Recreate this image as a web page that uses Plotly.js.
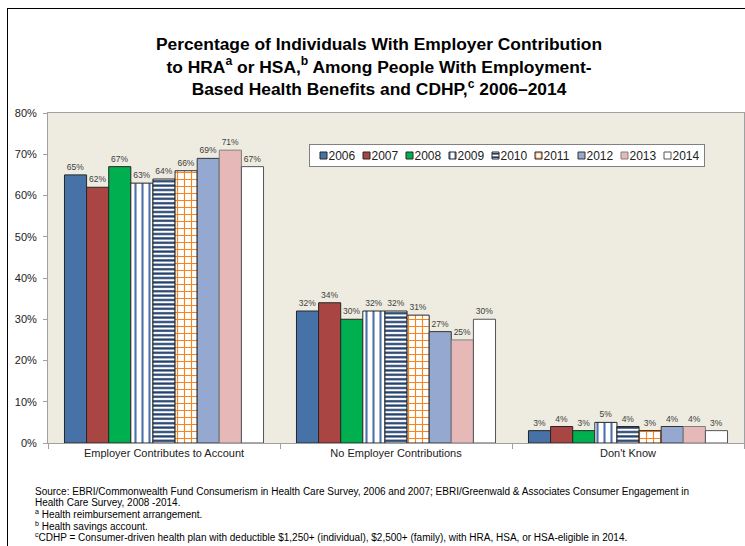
<!DOCTYPE html>
<html><head><meta charset="utf-8">
<script src="https://cdn.plot.ly/plotly-3.0.1.min.js"></script>
<style>
html,body{margin:0;padding:0;background:#fff;}
#wrap{position:relative;width:745px;height:546px;overflow:hidden;}
#chart{width:745px;height:546px;}
#frame{position:absolute;left:7px;top:8px;width:738px;height:538px;border-left:1.5px solid #000;border-top:1px solid #000;pointer-events:none;box-sizing:border-box;}
</style></head><body>
<div id="wrap"><div id="chart"></div><div id="frame"></div></div>
<script>
// ---- data ----
const categories = ["Employer Contributes to Account", "No Employer Contributions", "Don't Know"];
const years = ["2006", "2007", "2008", "2009", "2010", "2011", "2012", "2013", "2014"];
const v2006 = [65, 32, 3];
const v2007 = [62, 34, 4];
const v2008 = [67, 30, 3];
const v2009 = [63, 32, 5];
const v2010 = [64, 32, 4];
const v2011 = [66, 31, 3];
const v2012 = [69, 27, 4];
const v2013 = [71, 25, 4];
const v2014 = [67, 30, 3];
const yTickVals = [0, 10, 20, 30, 40, 50, 60, 70, 80];
const yTickText = ["0%", "10%", "20%", "30%", "40%", "50%", "60%", "70%", "80%"];
const seriesValues = [v2006, v2007, v2008, v2009, v2010, v2011, v2012, v2013, v2014];

// ---- styles ----
const FONT = "Liberation Sans, Arial, Helvetica, sans-serif";
const seriesStyles = [
  {color: "#4672A8", line: "#262626"},
  {color: "#A94643", line: "#262626"},
  {color: "#00B050", line: "#262626"},
  {color: "#FFFFFF", line: "#262626", pattern: {shape: "|", fgcolor: "#4A72A8", bgcolor: "#FFFFFF", size: 7, solidity: 0.3, fillmode: "replace"}},
  {color: "#FFFFFF", line: "#262626", pattern: {shape: "-", fgcolor: "#1F3D6B", bgcolor: "#FFFFFF", size: 4.4, solidity: 0.5, fillmode: "replace"}},
  {color: "#FFFFFF", line: "#262626", pattern: {shape: "+", fgcolor: "#F7841F", bgcolor: "#FFFFFF", size: 7, solidity: 0.3, fillmode: "replace"}},
  {color: "#95A8D0", line: "#333333"},
  {color: "#E6B8B7", line: "#7F7F7F"},
  {color: "#FFFFFF", line: "#555555"}
];

const traces = years.map((yr, i) => {
  const st = seriesStyles[i];
  const marker = {color: st.color, line: {color: st.line, width: 1}};
  if (st.pattern) marker.pattern = st.pattern;
  return {
    type: "bar",
    name: yr,
    x: categories,
    y: seriesValues[i],
    marker: marker,
    text: seriesValues[i].map(v => v + "%"),
    textposition: "outside",
    textfont: {family: FONT, size: 8.5, color: "#404040"},
    constraintext: "none",
    cliponaxis: false,
    hoverinfo: "x+y+name"
  };
});

const L = 48, R = 744, T = 113, B = 443;
const pw = R - L, ph = B - T;
const px2x = p => (p - L) / pw;
const px2y = p => (B - p) / ph;

const footnotes = [
  {y: 491, text: "Source: EBRI/Commonwealth Fund Consumerism in Health Care Survey, 2006 and 2007; EBRI/Greenwald & Associates Consumer Engagement in"},
  {y: 502.5, text: "Health Care Survey, 2008 -2014."},
  {y: 514, text: "<sup>a</sup> Health reimbursement arrangement."},
  {y: 525.5, text: "<sup>b</sup> Health savings account."},
  {y: 537, text: "<sup>c</sup>CDHP = Consumer-driven health plan with deductible $1,250+ (individual), $2,500+ (family), with HRA, HSA, or HSA-eligible in 2014."}
];

const layout = {
  width: 745, height: 546,
  margin: {l: L, r: 745 - R, t: T, b: 546 - B, pad: 0},
  paper_bgcolor: "#FFFFFF",
  plot_bgcolor: "#EEECE1",
  font: {family: FONT, color: "#222222", size: 11},
  title: {
    text: "Percentage of Individuals With Employer Contribution<br>to HRA<sup>a</sup> or HSA,<sup>b</sup> Among People With Employment-<br>Based Health Benefits and CDHP,<sup>c</sup> 2006–2014",
    font: {family: FONT, size: 17.4, weight: "bold", color: "#000000"},
    x: 379 / 745, xref: "container", xanchor: "center",
    y: 1 - 50 / 546, yref: "container", yanchor: "top"
  },
  barmode: "group",
  bargap: 0.142,
  bargroupgap: 0,
  showlegend: true,
  legend: {
    orientation: "h",
    x: px2x(309), y: px2y(144), xanchor: "left", yanchor: "top",
    bgcolor: "#FFFFFF", bordercolor: "#808080", borderwidth: 1,
    font: {family: FONT, size: 12, color: "#222222"},
    traceorder: "normal", itemclick: false, itemdoubleclick: false
  },
  xaxis: {
    type: "category",
    showline: true, linecolor: "#A0A0A0", linewidth: 1, mirror: true,
    ticks: "outside", tickson: "boundaries", ticklen: 5, tickcolor: "#A0A0A0",
    showgrid: false, zeroline: false,
    tickfont: {family: FONT, size: 11, color: "#222222"},
    fixedrange: true
  },
  yaxis: {
    range: [0, 80],
    tickvals: yTickVals, ticktext: yTickText,
    showline: true, linecolor: "#A0A0A0", linewidth: 1, mirror: true,
    ticks: "outside", ticklen: 4, tickcolor: "#A0A0A0",
    showgrid: false, zeroline: false,
    tickfont: {family: FONT, size: 11, color: "#222222"},
    ticklabelstandoff: 4,
    fixedrange: true
  },
  annotations: footnotes.map(f => ({
    xref: "paper", yref: "paper",
    x: px2x(33), y: px2y(f.y),
    xanchor: "left", yanchor: "middle",
    text: f.text, showarrow: false, align: "left",
    font: {family: FONT, size: 10, color: "#000000"}
  }))
};

const gd = document.getElementById("chart");
Plotly.newPlot(gd, traces, layout, {displayModeBar: false, staticPlot: true}).then(() => {
  // compact legend entries to mimic the reference layout
  const leg = gd.querySelector(".legend");
  if (!leg) return;
  leg.setAttribute("transform", "translate(309,144)");
  const bg = leg.querySelector("rect.bg");
  if (bg) { bg.setAttribute("width", 395); bg.setAttribute("height", 22); bg.setAttribute("x", 0.5); bg.setAttribute("y", 0.5); }
  const sb = leg.querySelector(".scrollbox");
  if (sb) sb.removeAttribute("clip-path");
  const items = leg.querySelectorAll("g.traces");
  items.forEach((g, i) => {
    g.setAttribute("transform", "translate(" + (-5.5 + i * 43) + ",11.5)");
    const t = g.querySelector("text.legendtext");
    if (t) t.setAttribute("x", 25);
    g.querySelectorAll(".legendpoints path").forEach(p => p.setAttribute("d", "M3.5,3.5H-3.5V-3.5H3.5Z"));
  });
});
</script>
</body></html>
